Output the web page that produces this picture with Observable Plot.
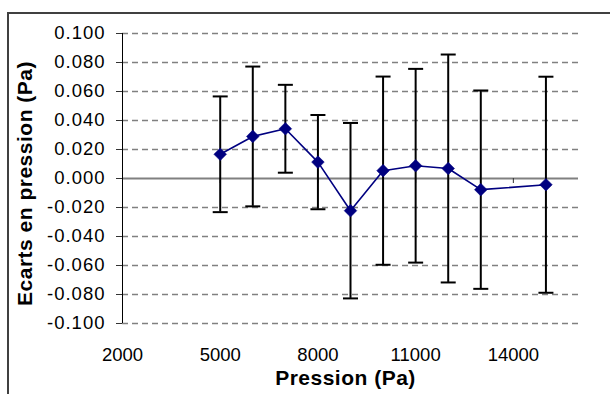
<!DOCTYPE html>
<html>
<head>
<meta charset="utf-8">
<script src="https://cdn.jsdelivr.net/npm/d3@7"></script>
<script src="https://cdn.jsdelivr.net/npm/@observablehq/plot@0.6"></script>
<style>
  html, body { margin: 0; padding: 0; background: #fff; }
  #wrap { position: relative; width: 610px; height: 394px; overflow: hidden; background: #fff; }
  #wrap svg { position: absolute; left: 0; top: 0; z-index: 1; }
  #frame { position: absolute; left: 7px; top: 12px; width: 800px; height: 600px; border-top: 2px solid #404040; border-left: 2px solid #404040; box-sizing: border-box; pointer-events: none; z-index: 5; }
</style>
</head>
<body>
<div id="wrap"><div id="frame"></div></div>
<script>
// Data
const pression = [5000, 6000, 7000, 8000, 9000, 10000, 11000, 12000, 13000, 15000];
const ecart    = [0.0167, 0.0290, 0.0343, 0.0113, -0.0222, 0.0054, 0.0088, 0.0069, -0.0077, -0.0043];
const erreur   = [0.0399, 0.0482, 0.0303, 0.0325, 0.0605, 0.0649, 0.0668, 0.0786, 0.0684, 0.0745];
const xTickLabels = [2000, 5000, 8000, 11000, 14000];
const xTickMarks  = [2000, 5000, 8000, 11000, 14000];
const yTicks = [-0.1, -0.08, -0.06, -0.04, -0.02, 0, 0.02, 0.04, 0.06, 0.08, 0.1];
const xTitle = "Pression (Pa)";
const yTitle = "Ecarts en pression (Pa)";

const data = pression.map((p, i) => ({p, e: ecart[i], lo: ecart[i] - erreur[i], hi: ecart[i] + erreur[i]}));

const capSymbol = {
  draw(context, size) {
    const r = Math.sqrt(size / Math.PI);
    context.moveTo(-r, 0);
    context.lineTo(r, 0);
  }
};

const W = 610, H = 394, mTop = 33, mBottom = 71, mLeft = 122, mRight = 32;
const zeroOffset = (H - mTop - mBottom) / 2; // pixel distance from bottom of frame to y = 0

const chart = Plot.plot({
  width: W,
  height: H,
  marginTop: mTop,
  marginBottom: mBottom,
  marginLeft: mLeft,
  marginRight: mRight,
  style: {fontFamily: "'Liberation Sans', Arial, sans-serif", fontSize: "18.5px", color: "#000", background: "transparent", overflow: "visible"},
  x: {domain: [2000, 16000]},
  y: {domain: [-0.1, 0.1]},
  marks: [
    Plot.ruleY(yTicks.filter(d => d !== 0), {y: d => d, stroke: "#808080", strokeWidth: 1.3, strokeDasharray: "6,4", strokeOpacity: 1}),
    Plot.ruleY([0], {y: d => d, stroke: "#808080", strokeWidth: 2, strokeOpacity: 1}),
    Plot.axisX({ticks: xTickMarks, tickSize: 5, tickFormat: () => "", label: null, dy: -zeroOffset, stroke: "#333"}),
    Plot.axisX({ticks: xTickLabels, tickSize: 0, tickPadding: 24, tickFormat: d => String(d), label: null, fill: "#000", style: "letter-spacing:1.4px"}),
    Plot.axisY({ticks: yTicks, tickSize: 6, tickPadding: 11, tickFormat: d => d.toFixed(3), label: null, fill: "#000", stroke: "#333"}),
    Plot.ruleX([2000], {x: d => d, y1: -0.1, y2: 0.1, stroke: "#000", strokeWidth: 1}),
    Plot.ruleX(data, {x: "p", y1: "lo", y2: "hi", stroke: "#000", strokeWidth: 2}),
    Plot.dot(data, {x: "p", y: "hi", symbol: capSymbol, r: 7.5, stroke: "#000", strokeWidth: 2}),
    Plot.dot(data, {x: "p", y: "lo", symbol: capSymbol, r: 7.5, stroke: "#000", strokeWidth: 2}),
    Plot.line(data, {x: "p", y: "e", stroke: "#000080", strokeWidth: 1.6}),
    Plot.dot(data, {x: "p", y: "e", symbol: "diamond2", r: 5.7, fill: "#000080", stroke: "#000080", strokeWidth: 0.5}),
    Plot.text([xTitle], {frameAnchor: "bottom", text: d => d, dx: -5, dy: 55, fontWeight: "bold", fontSize: 21, fill: "#000", textAnchor: "middle", lineAnchor: "middle"}),
    Plot.text([yTitle], {frameAnchor: "left", text: d => d, rotate: -90, dx: -97, dy: 5, fontWeight: "bold", fontSize: 21, fill: "#000", textAnchor: "middle", lineAnchor: "middle"})
  ]
});

document.getElementById("wrap").insertBefore(chart, document.getElementById("frame"));
// slight letter spacing on the y tick labels and titles, like the stretched Excel text
chart.querySelectorAll("g[aria-label='y-axis tick label'] text").forEach(t => t.style.letterSpacing = "1px");
chart.querySelectorAll("g[aria-label='text'] text").forEach(t => t.style.letterSpacing = "0.5px");
</script>
</body>
</html>
